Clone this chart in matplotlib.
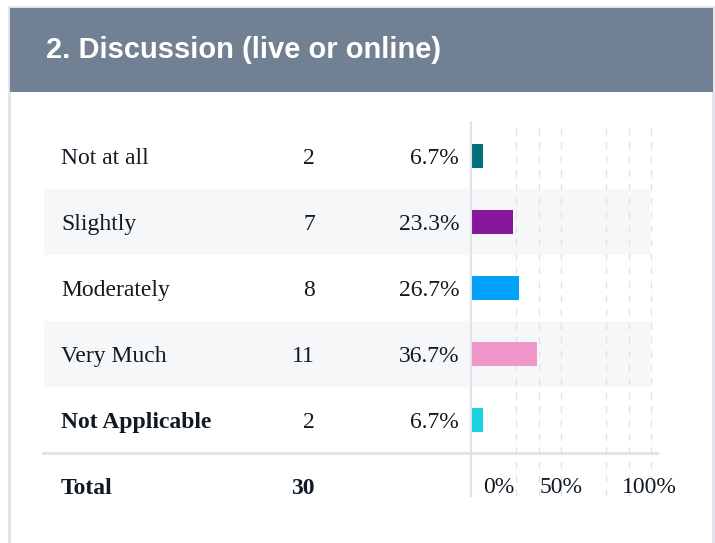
import matplotlib.pyplot as plt
from matplotlib.patches import Rectangle

# data
title = "2. Discussion (live or online)"
categories = ["Not at all", "Slightly", "Moderately", "Very Much", "Not Applicable"]
counts = [2, 7, 8, 11, 2]
percents = [6.7, 23.3, 26.7, 36.7, 6.7]
total = 30
colors = ["#00707F", "#86179C", "#00A2F8", "#EF97C8", "#19D3DF"]
tick_values = [0, 50, 100]
tick_labels = ["0%", "50%", "100%"]
grid_values = [25, 37.5, 50, 75, 87.5, 100]

W, H = 715, 543
fig = plt.figure(figsize=(W / 100, H / 100), dpi=100)

# background axes in pixel coordinates
ax = fig.add_axes([0, 0, 1, 1])
ax.set_xlim(0, W)
ax.set_ylim(H, 0)
ax.axis("off")

border = "#dfe3e8"
ax.add_patch(Rectangle((9, 7), 704, 545, facecolor="white", edgecolor=border, lw=2))
ax.add_patch(Rectangle((10, 8), 703, 84, facecolor="#728093", edgecolor="none"))
ax.text(46, 58, title, color="white", fontsize=21, fontweight="bold",
        family="Liberation Sans", va="baseline", ha="left")

row0, step = 156, 66
base_off = 8  # baseline below row center
serif = "Liberation Serif"
txt = "#111a22"
for i, (cat, n, p) in enumerate(zip(categories, counts, percents)):
    yc = row0 + step * i
    if i % 2 == 1:
        ax.add_patch(Rectangle((44, yc - step / 2), 606, step, facecolor="#f6f7f9", edgecolor="none"))
    weight = "bold" if cat == "Not Applicable" else "normal"
    yb = yc + base_off
    ax.text(61, yb, cat, fontsize=17, family=serif, fontweight=weight, va="baseline", color=txt)
    ax.text(315, yb, str(n), fontsize=17, family=serif, va="baseline", ha="right", color=txt)
    ax.text(459, yb, f"{p:.1f}%", fontsize=17, family=serif, va="baseline", ha="right", color=txt)

total_base = 494
ax.plot([43, 657], [453, 453], color=border, lw=2)
ax.text(61, total_base, "Total", fontsize=17, family=serif, fontweight="bold", va="baseline", color=txt)
ax.text(315, total_base, str(total), fontsize=17, family=serif, fontweight="bold",
        va="baseline", ha="right", color=txt)

# bar axes: 0-100% maps to 472..652 px
px_per = 1.8
x0, top, bot = 471, 122, 496
xmax = 103
bx = fig.add_axes([x0 / W, 1 - bot / H, xmax * px_per / W, (bot - top) / H])
bx.patch.set_alpha(0)
bx.set_ylim((bot - row0) / step, (top - row0) / step)
bx.set_xlim(0, xmax)
for g in grid_values:
    bx.axvline(g, color="#dfe3e8", lw=1, ls=(0, (5, 5)), zorder=0)
bx.barh(range(len(categories)), percents, height=24 / step, color=colors, zorder=2)
for s in ["top", "right", "bottom"]:
    bx.spines[s].set_visible(False)
bx.spines["left"].set_color(border)
bx.spines["left"].set_linewidth(1.5)
bx.set_xticks([])
bx.set_yticks([])

tick_pos = [15.5, 50, 99]
ty = (493 - row0) / step
for xp, lab in zip(tick_pos, tick_labels):
    bx.text(xp, ty, lab, fontsize=17, family=serif, ha="center", va="baseline", color=txt)

fig.savefig("out.png", dpi=100)
